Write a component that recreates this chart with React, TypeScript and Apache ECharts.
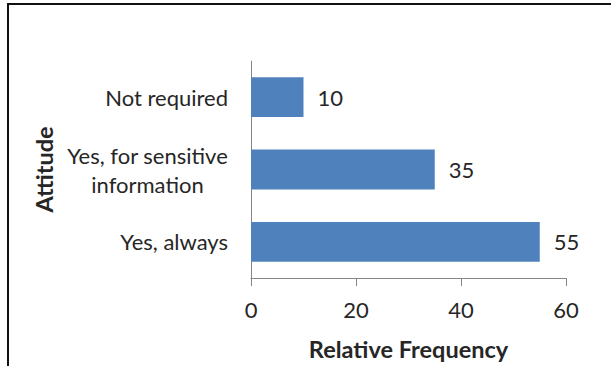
import React, { useEffect, useRef } from "react";
import * as echarts from "echarts";

// Survey responses: attitude vs. relative frequency (%)
const categories = ["Yes, always", "Yes, for sensitive\ninformation", "Not required"];
const frequencies = [55, 35, 10];
const xTicks = [0, 20, 40, 60];

const FONT = "Lato, 'Open Sans', sans-serif";
const TEXT = "#262626";
const AXIS = "#868686";
const BAR = "#4F81BD";

export default function App() {
  const ref = useRef<HTMLDivElement>(null);

  useEffect(() => {
    if (!ref.current) return;
    const chart = echarts.init(ref.current, null, { renderer: "svg" });
    chart.setOption({
      animation: false,
      backgroundColor: "#ffffff",
      grid: { left: 251, right: 45, top: 61, bottom: 88, containLabel: false },
      xAxis: {
        type: "value",
        min: xTicks[0],
        max: xTicks[xTicks.length - 1],
        interval: xTicks[1] - xTicks[0],
        name: "Relative Frequency",
        nameLocation: "middle",
        nameGap: 59,
        nameTextStyle: { fontFamily: FONT, fontSize: 23.5, fontWeight: "bold", color: TEXT },
        axisLine: { show: true, lineStyle: { color: AXIS, width: 1 } },
        axisTick: { show: true, length: 8, lineStyle: { color: AXIS } },
        axisLabel: { margin: 20, fontFamily: FONT, fontSize: 22, color: TEXT },
        splitLine: { show: false },
      },
      yAxis: {
        type: "category",
        data: categories,
        name: "Attitude",
        nameLocation: "middle",
        nameRotate: 90,
        nameGap: 195,
        nameTextStyle: { fontFamily: FONT, fontSize: 23.5, fontWeight: "bold", color: TEXT },
        axisLine: { show: true, lineStyle: { color: AXIS, width: 1 } },
        axisTick: { show: false },
        axisLabel: {
          margin: 23,
          formatter: (v: string) =>
            v
              .split("\n")
              .map((l) => `{c|${l}}`)
              .join("\n"),
          rich: {
            c: { align: "center", fontFamily: FONT, fontSize: 22, lineHeight: 29, color: TEXT },
          },
        },
      },
      series: [
        {
          type: "bar",
          data: frequencies,
          barCategoryGap: "45%",
          itemStyle: { color: BAR },
          label: {
            show: true,
            position: "right",
            distance: 14,
            fontFamily: FONT,
            fontSize: 22,
            color: TEXT,
          },
        },
      ],
      graphic: [
        {
          type: "polyline",
          shape: { points: [[8, 366], [8, 4], [611, 4]] },
          style: { stroke: "#111111", lineWidth: 2, fill: "none" },
        },
      ],
    });
    return () => chart.dispose();
  }, []);

  return (
    <div
      ref={ref}
      style={{ position: "fixed", left: 0, top: 0, width: 611, height: 366 }}
    />
  );
}
